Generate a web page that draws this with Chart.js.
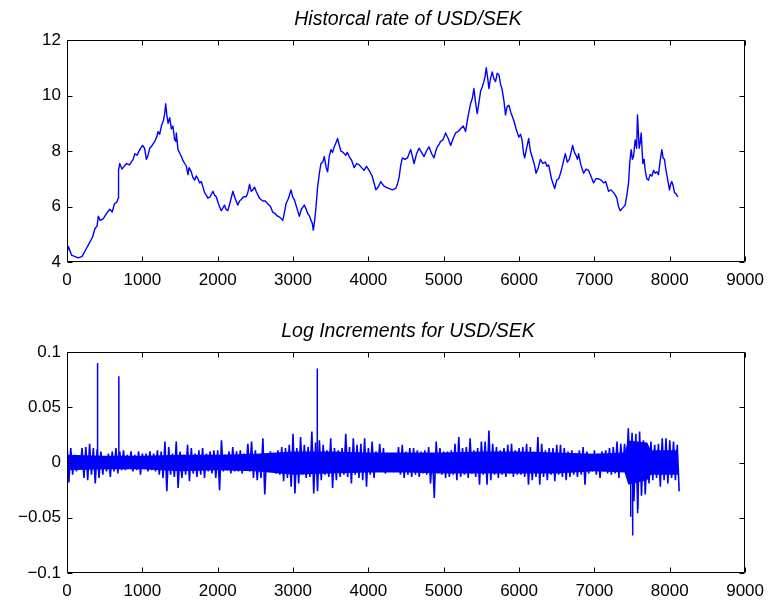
<!DOCTYPE html>
<html>
<head>
<meta charset="utf-8">
<script src="https://cdn.jsdelivr.net/npm/chart.js@4/dist/chart.umd.min.js"></script>
<style>
  html, body { margin: 0; padding: 0; background: #fff; }
  #wrap { position: relative; width: 772px; height: 604px; }
  canvas { position: absolute; left: 0; }
</style>
</head>
<body>
<div id="wrap">
  <canvas id="rate" width="772" height="300" style="top:0px"></canvas>
  <canvas id="inc" width="772" height="304" style="top:300px"></canvas>
</div>
<script>
// USD/SEK daily rate: trading-day index and rate
const rateDay = [
  0, 20, 60, 100, 150, 200, 250, 300, 340, 370,
  400, 415, 440, 480, 525, 569, 600, 630, 660, 680,
  684, 700, 730, 745, 790, 830, 878, 900, 930, 966,
  1002, 1030, 1054, 1070, 1098, 1130, 1165, 1190, 1209, 1230,
  1253, 1280, 1297, 1310, 1325, 1341, 1363, 1385, 1405, 1429,
  1445, 1451, 1473, 1500, 1518, 1540, 1562, 1584, 1606, 1620,
  1650, 1670, 1694, 1716, 1738, 1760, 1782, 1800, 1826, 1850,
  1870, 1900, 1937, 1960, 1981, 2010, 2047, 2070, 2091, 2110,
  2135, 2160, 2202, 2230, 2268, 2290, 2312, 2345, 2378, 2400,
  2423, 2445, 2467, 2489, 2510, 2554, 2598, 2630, 2664, 2700,
  2730, 2760, 2797, 2830, 2863, 2880, 2907, 2940, 2973, 2995,
  3017, 3050, 3084, 3110, 3150, 3175, 3194, 3220, 3238, 3255,
  3269, 3285, 3304, 3326, 3350, 3370, 3395, 3415, 3440, 3459,
  3480, 3503, 3525, 3547, 3570, 3591, 3615, 3635, 3665, 3701,
  3720, 3746, 3780, 3812, 3845, 3878, 3910, 3944, 3975, 4010,
  4050, 4080, 4099, 4130, 4165, 4200, 4231, 4270, 4319, 4363,
  4385, 4408, 4430, 4452, 4485, 4518, 4540, 4562, 4585, 4606,
  4640, 4672, 4705, 4739, 4770, 4805, 4840, 4871, 4895, 4915,
  4940, 4959, 4990, 5025, 5060, 5092, 5125, 5158, 5190, 5224,
  5260, 5290, 5320, 5356, 5380, 5401, 5425, 5445, 5470, 5489,
  5510, 5533, 5550, 5564, 5585, 5600, 5620, 5644, 5666, 5688,
  5710, 5732, 5755, 5776, 5800, 5820, 5842, 5865, 5890, 5930,
  5960, 5996, 6020, 6040, 6060, 6075, 6100, 6128, 6150, 6172,
  6200, 6225, 6255, 6283, 6315, 6349, 6370, 6393, 6430, 6473,
  6500, 6526, 6550, 6570, 6595, 6614, 6640, 6667, 6690, 6711,
  6735, 6755, 6775, 6790, 6820, 6857, 6890, 6923, 6960, 6989,
  7020, 7056, 7090, 7122, 7150, 7188, 7220, 7254, 7280, 7298,
  7320, 7342, 7375, 7408, 7430, 7453, 7470, 7488, 7505, 7519,
  7541, 7560, 7572, 7594, 7608, 7621, 7643, 7660, 7674, 7695,
  7718, 7740, 7762, 7785, 7806, 7830, 7851, 7875, 7895, 7912,
  7930, 7945, 7961, 7980, 7996, 8012, 8027, 8045, 8063, 8085,
  8107
];
const rateValue = [
  4.35, 4.55, 4.25, 4.2, 4.15, 4.2, 4.45, 4.7, 4.9, 5.2,
  5.3, 5.65, 5.5, 5.55, 5.75, 5.9, 5.8, 6.1, 6.15, 6.3,
  7.3, 7.55, 7.35, 7.4, 7.55, 7.5, 7.7, 7.9, 7.85, 8.05,
  8.2, 8.1, 7.7, 7.8, 8.1, 8.2, 8.35, 8.5, 8.7, 8.6,
  8.9, 9.1, 9.35, 9.7, 9.3, 9.0, 9.2, 8.8, 8.9, 8.4,
  8.35, 8.65, 8.05, 7.9, 7.8, 7.65, 7.55, 7.45, 7.15, 7.4,
  7.25, 7.05, 6.95, 7.1, 7.0, 6.85, 6.9, 6.75, 6.5, 6.4,
  6.3, 6.35, 6.55, 6.4, 6.35, 6.1, 5.85, 5.95, 6.05, 5.9,
  5.85, 6.1, 6.55, 6.3, 6.05, 6.2, 6.25, 6.35, 6.35, 6.5,
  6.8, 6.55, 6.6, 6.7, 6.55, 6.3, 6.2, 6.2, 6.1, 6.0,
  5.8, 5.75, 5.65, 5.6, 5.5, 5.7, 6.1, 6.3, 6.6, 6.35,
  6.25, 5.95, 5.65, 5.9, 6.05, 5.9, 5.75, 5.65, 5.5, 5.4,
  5.15, 5.45, 5.95, 6.7, 7.2, 7.55, 7.6, 7.8, 7.4, 7.25,
  7.8, 8.05, 7.95, 8.15, 8.3, 8.45, 8.2, 8.0, 7.95, 7.85,
  7.95, 7.8, 7.65, 7.4, 7.55, 7.5, 7.4, 7.3, 7.45, 7.3,
  7.1, 6.8, 6.6, 6.7, 6.9, 6.75, 6.7, 6.65, 6.6, 6.65,
  6.8, 7.05, 7.5, 7.75, 7.7, 7.75, 7.9, 8.05, 7.8, 7.55,
  7.9, 8.1, 7.95, 7.8, 8.0, 8.15, 7.9, 7.75, 8.0, 8.15,
  8.25, 8.35, 8.4, 8.65, 8.45, 8.2, 8.45, 8.65, 8.7, 8.8,
  8.9, 8.7, 9.2, 9.7, 9.9, 10.25, 9.7, 9.35, 9.8, 10.15,
  10.3, 10.5, 10.7, 11.0, 10.6, 10.25, 10.6, 10.85, 10.6, 10.5,
  10.8, 10.75, 10.4, 10.2, 9.8, 9.3, 9.6, 9.65, 9.4, 9.1,
  8.8, 8.5, 8.6, 8.4, 7.9, 7.75, 8.1, 8.45, 8.0, 7.8,
  7.55, 7.2, 7.4, 7.7, 7.55, 7.6, 7.45, 7.5, 7.0, 6.65,
  6.95, 7.0, 7.2, 7.4, 7.7, 7.9, 7.6, 7.7, 7.95, 8.2,
  7.95, 7.85, 7.7, 7.9, 7.5, 7.2, 7.35, 7.3, 7.05, 6.85,
  7.0, 7.0, 6.95, 6.85, 6.9, 6.55, 6.6, 6.5, 6.4, 6.3,
  6.0, 5.85, 5.95, 6.05, 6.4, 6.85, 7.6, 8.05, 7.7, 7.8,
  8.4, 8.1, 9.3, 8.1, 8.3, 8.65, 7.55, 7.7, 7.3, 7.0,
  6.95, 7.15, 7.1, 7.3, 7.2, 7.25, 7.15, 7.7, 8.05, 7.75,
  7.7, 7.4, 7.15, 6.85, 6.6, 6.8, 6.9, 6.75, 6.5, 6.45,
  6.35
];

// Log increments: highest and lowest value in each 50-day window
const incStep = 50;
const incUpper = [
  0.018, 0.013, 0.007, 0.005, 0.013, 0.014, 0.017, 0.013, 0.012, 0.010,
  0.005, 0.008, 0.010, 0.013, 0.010, 0.011, 0.007, 0.010, 0.007, 0.010,
  0.008, 0.008, 0.010, 0.008, 0.011, 0.010, 0.019, 0.014, 0.008, 0.019,
  0.010, 0.007, 0.016, 0.013, 0.008, 0.011, 0.013, 0.008, 0.010, 0.011,
  0.011, 0.020, 0.007, 0.010, 0.014, 0.010, 0.011, 0.008, 0.017, 0.019,
  0.011, 0.007, 0.022, 0.008, 0.010, 0.008, 0.011, 0.014, 0.013, 0.016,
  0.026, 0.013, 0.023, 0.016, 0.014, 0.028, 0.018, 0.020, 0.016, 0.011,
  0.022, 0.013, 0.011, 0.013, 0.026, 0.014, 0.022, 0.016, 0.017, 0.022,
  0.013, 0.019, 0.010, 0.017, 0.013, 0.007, 0.008, 0.007, 0.014, 0.016,
  0.010, 0.013, 0.013, 0.011, 0.010, 0.011, 0.014, 0.008, 0.019, 0.013,
  0.010, 0.010, 0.011, 0.017, 0.023, 0.013, 0.014, 0.022, 0.011, 0.013,
  0.019, 0.019, 0.029, 0.017, 0.014, 0.011, 0.013, 0.016, 0.017, 0.011,
  0.013, 0.014, 0.017, 0.014, 0.010, 0.023, 0.017, 0.011, 0.013, 0.013,
  0.016, 0.016, 0.013, 0.010, 0.011, 0.008, 0.011, 0.014, 0.010, 0.007,
  0.011, 0.008, 0.010, 0.011, 0.013, 0.014, 0.019, 0.017, 0.017, 0.031,
  0.027, 0.026, 0.028, 0.020, 0.017, 0.019, 0.016, 0.017, 0.022, 0.022,
  0.020, 0.019, 0.016
];
const incLower = [
  -0.018, -0.011, -0.008, -0.005, -0.014, -0.016, -0.011, -0.019, -0.014, -0.011,
  -0.008, -0.013, -0.008, -0.010, -0.007, -0.007, -0.005, -0.008, -0.007, -0.011,
  -0.005, -0.008, -0.007, -0.008, -0.011, -0.014, -0.026, -0.011, -0.013, -0.023,
  -0.014, -0.011, -0.017, -0.010, -0.013, -0.011, -0.014, -0.008, -0.010, -0.014,
  -0.025, -0.008, -0.007, -0.010, -0.008, -0.008, -0.010, -0.007, -0.008, -0.014,
  -0.016, -0.014, -0.029, -0.008, -0.008, -0.010, -0.011, -0.017, -0.014, -0.022,
  -0.028, -0.019, -0.011, -0.014, -0.013, -0.028, -0.026, -0.016, -0.011, -0.013,
  -0.023, -0.016, -0.013, -0.011, -0.013, -0.019, -0.011, -0.014, -0.016, -0.022,
  -0.011, -0.014, -0.008, -0.007, -0.010, -0.008, -0.007, -0.008, -0.011, -0.014,
  -0.011, -0.013, -0.011, -0.013, -0.010, -0.011, -0.019, -0.032, -0.010, -0.011,
  -0.014, -0.013, -0.011, -0.016, -0.013, -0.011, -0.014, -0.010, -0.013, -0.020,
  -0.011, -0.020, -0.016, -0.011, -0.014, -0.011, -0.013, -0.010, -0.013, -0.011,
  -0.011, -0.013, -0.020, -0.016, -0.013, -0.020, -0.013, -0.016, -0.011, -0.017,
  -0.011, -0.013, -0.016, -0.013, -0.011, -0.013, -0.011, -0.020, -0.010, -0.008,
  -0.011, -0.014, -0.008, -0.010, -0.011, -0.010, -0.014, -0.008, -0.010, -0.020,
  -0.035, -0.042, -0.030, -0.029, -0.019, -0.016, -0.014, -0.022, -0.016, -0.019,
  -0.014, -0.016, -0.026
];
// Dense core of the increments, where daily moves overlap into a solid band
const coreDay = [0, 500, 1000, 1500, 2000, 2500, 3000, 3500, 4000, 4500,
                 5000, 5500, 6000, 6500, 7000, 7400, 7450, 7700, 7750, 8110];
const coreUpper = [0.007, 0.006, 0.006, 0.007, 0.007, 0.008, 0.010, 0.010, 0.009, 0.009,
                   0.009, 0.010, 0.010, 0.009, 0.008, 0.009, 0.020, 0.018, 0.011, 0.011];
const coreLower = [-0.007, -0.006, -0.006, -0.008, -0.007, -0.008, -0.011, -0.010, -0.009, -0.009,
                   -0.010, -0.010, -0.010, -0.010, -0.008, -0.009, -0.020, -0.016, -0.011, -0.011];
// Isolated large daily moves
const spikeDay = [406, 688, 3322, 7482, 7508, 7574];
const spikeValue = [0.090, 0.078, 0.085, -0.049, -0.066, -0.046];

// Tick labels
const dayTickLabels = ['0', '1000', '2000', '3000', '4000', '5000', '6000', '7000', '8000', '9000'];
const rateTickLabels = ['4', '6', '8', '10', '12'];
const incTickLabels = ['\u22120.1', '\u22120.05', '0', '0.05', '0.1'];

const BLUE = '#0000ff';
const FAMILY = '"Liberation Sans", Arial, Helvetica, sans-serif';
const FONT = { family: FAMILY, size: 17 };

// Boxed axes with inward ticks on all four sides, plus an italic title over the plot area
const boxAxes = {
  id: 'boxAxes',
  afterDraw(chart, args, opts) {
    const { ctx, chartArea: a, scales } = chart;
    const L = Math.round(a.left) + 0.5, R = Math.round(a.right) - 0.5;
    const T = Math.round(a.top) + 0.5, B = Math.round(a.bottom) - 0.5;
    const len = 5;
    ctx.save();
    ctx.strokeStyle = '#000';
    ctx.lineWidth = 1;
    ctx.beginPath();
    ctx.rect(L, T, R - L, B - T);
    scales.x.ticks.forEach(t => {
      const px = Math.round(scales.x.getPixelForValue(t.value)) + 0.5;
      ctx.moveTo(px, B); ctx.lineTo(px, B - len);
      ctx.moveTo(px, T); ctx.lineTo(px, T + len);
    });
    scales.y.ticks.forEach(t => {
      const py = Math.round(scales.y.getPixelForValue(t.value)) + 0.5;
      ctx.moveTo(L, py); ctx.lineTo(L + len, py);
      ctx.moveTo(R, py); ctx.lineTo(R - len, py);
    });
    ctx.stroke();
    ctx.fillStyle = '#000';
    ctx.font = 'italic 19.5px ' + FAMILY;
    ctx.textAlign = 'center';
    ctx.textBaseline = 'alphabetic';
    ctx.fillText(opts.text, (a.left + a.right) / 2 + 2, opts.baseline);
    ctx.restore();
  }
};

function scalesFor(yMin, yMax, yStep, yLabels, xHeight) {
  return {
    x: {
      type: 'linear', min: 0, max: 9000,
      ticks: { stepSize: 1000, autoSkip: false, maxRotation: 0, padding: 8, color: '#000', font: FONT,
               callback: (v, i) => dayTickLabels[i] },
      grid: { display: false, drawTicks: false },
      border: { display: false },
      afterFit(s) { s.height = xHeight; }
    },
    y: {
      type: 'linear', min: yMin, max: yMax,
      ticks: { stepSize: yStep, autoSkip: false, padding: 6, color: '#000', font: FONT,
               callback: (v, i) => yLabels[i] },
      grid: { display: false, drawTicks: false },
      border: { display: false },
      afterFit(s) { s.width = 67; }
    }
  };
}

const common = {
  responsive: false,
  animation: false,
  devicePixelRatio: 1,
  events: [],
  elements: { point: { radius: 0 }, line: { tension: 0, borderWidth: 1, borderJoinStyle: 'bevel' } },
  plugins: { legend: { display: false }, tooltip: { enabled: false } }
};

// Upper panel: historical rate
new Chart(document.getElementById('rate'), {
  type: 'line',
  data: {
    datasets: [{
      data: rateDay.map((d, i) => ({ x: d, y: rateValue[i] })),
      borderColor: BLUE, borderWidth: 1.4, borderJoinStyle: 'round', fill: false
    }]
  },
  options: Object.assign({}, common, {
    layout: { padding: { left: 0, right: 25, top: 40, bottom: 0 } },
    scales: scalesFor(4, 12, 2, rateTickLabels, 38),
    plugins: Object.assign({}, common.plugins, { boxAxes: { text: 'Historcal rate of USD/SEK', baseline: 25 } })
  }),
  plugins: [boxAxes]
});

// Lower panel: log increments, drawn as a dense trace between window highs and lows
const incTrace = [];
incUpper.forEach((hi, i) => {
  incTrace.push({ x: i * incStep, y: hi });
  incTrace.push({ x: i * incStep + incStep / 2, y: incLower[i] });
});
const spikeTrace = [];
spikeDay.forEach((d, i) => {
  spikeTrace.push({ x: d, y: 0 }, { x: d, y: spikeValue[i] }, { x: d, y: null });
});

new Chart(document.getElementById('inc'), {
  type: 'line',
  data: {
    datasets: [
      { data: incTrace, borderColor: BLUE, borderWidth: 1.6, borderJoinStyle: 'bevel', fill: false, order: 0 },
      { data: spikeTrace, borderColor: BLUE, borderWidth: 1.5, fill: false, spanGaps: false, order: 0 },
      { data: coreDay.map((d, i) => ({ x: d, y: coreUpper[i] })), borderWidth: 0,
        borderColor: BLUE, backgroundColor: BLUE, fill: '+1', order: 2 },
      { data: coreDay.map((d, i) => ({ x: d, y: coreLower[i] })), borderWidth: 0,
        borderColor: BLUE, backgroundColor: BLUE, fill: false, order: 3 }
    ]
  },
  options: Object.assign({}, common, {
    layout: { padding: { left: 0, right: 25, top: 52, bottom: 0 } },
    scales: scalesFor(-0.1, 0.1, 0.05, incTickLabels, 31),
    plugins: Object.assign({}, common.plugins, { boxAxes: { text: 'Log Increments for USD/SEK', baseline: 37 } })
  }),
  plugins: [boxAxes]
});
</script>
</body>
</html>
